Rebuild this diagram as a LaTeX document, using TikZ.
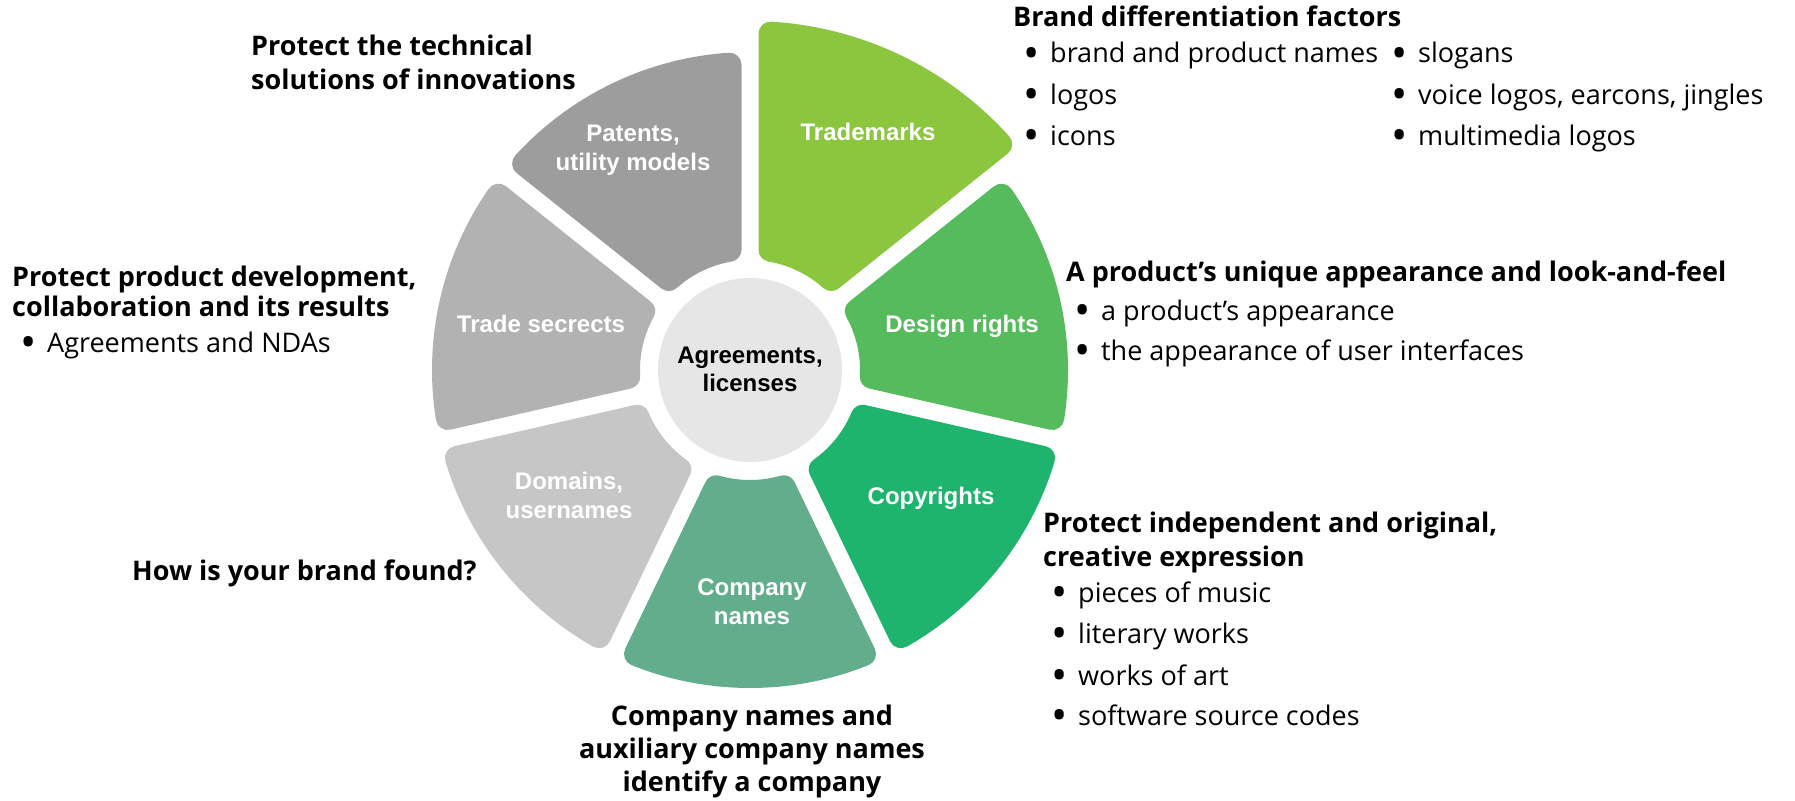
\documentclass[tikz,border=0pt]{standalone}
\usepackage{graphicx}
\usepackage{fontspec}
\setmainfont{Open Sans}
\newfontfamily\labfont{Liberation Sans}
\definecolor{cPat}{HTML}{9D9D9D}
\definecolor{cSec}{HTML}{B2B2B2}
\definecolor{cDom}{HTML}{C6C6C6}
\definecolor{cCom}{HTML}{62AE8C}
\definecolor{cCop}{HTML}{1EB46E}
\definecolor{cDes}{HTML}{55BB5C}
\definecolor{cTra}{HTML}{8CC63F}
\definecolor{cCir}{HTML}{E6E6E6}
\newcommand\bul{\makebox[25pt][l]{\hspace{-1.5pt}\raisebox{-5.5pt}{\scalebox{1.6}{•}}}}
\newcommand\wseg[5]{%
  \pgfmathsetmacro\Ro{#3-12}%
  \pgfmathsetmacro\dO{asin(20.5/\Ro)}%
  \path[segfill=#4] (#1+\dO:\Ro) arc[start angle=#1+\dO, end angle=#2-\dO, radius=\Ro]
    -- (#2-9.67:122) arc[start angle=#2-9.67, end angle=#1+9.67, radius=122] -- cycle;
  \coordinate (#5) at ({(#1+#2)/2}:{(#3+110)/2});}
\tikzset{
  segfill/.style={fill=#1, draw=#1, line width=24pt, line join=round},
  hd/.style={font=\bfseries\fontsize{27}{32}\selectfont, inner sep=0pt, anchor=base west},
  bt/.style={font=\fontsize{27}{32}\selectfont, inner sep=0pt, anchor=base west},
  sl/.style={font=\labfont\bfseries\fontsize{24}{28}\selectfont, text=white, inner sep=0pt, anchor=base},
}
\begin{document}
\begin{tikzpicture}[x=1pt, y=1pt]
\useasboundingbox (0,0) rectangle (1795,-800);
\fill[white] (0,0) rectangle (1795,-800);
\begin{scope}[shift={(750,-370)}]
  \wseg{38.571}{90}{349}{cTra}{sTra}
  \wseg{-12.857}{38.571}{318}{cDes}{sDes}
  \wseg{-64.286}{-12.857}{318}{cCop}{sCop}
  \wseg{-115.714}{-64.286}{318}{cCom}{sCom}
  \wseg{-167.143}{-115.714}{318}{cDom}{sDom}
  \wseg{141.429}{192.857}{318}{cSec}{sSec}
  \wseg{90}{141.429}{318}{cPat}{sPat}
\end{scope}
\node[circle, fill=cCir, minimum size=184pt, inner sep=0pt] (hub) at (750,-370) {};
% segment labels
\node[sl, text=black] (hubA) at (750,-363) {Agreements,};
\node[sl, text=black] (hubB) at (750,-391) {licenses};
\node[sl] (patA) at (633,-141) {Patents,};
\node[sl] (patB) at (633,-170) {utility models};
\node[sl] (tra) at (868,-140) {Trademarks};
\node[sl] (des) at (962,-332) {Design rights};
\node[sl] (sec) at (541,-332) {Trade secrects};
\node[sl] (domA) at (569,-489) {Domains,};
\node[sl] (domB) at (569,-518) {usernames};
\node[sl] (comA) at (752,-595) {Company};
\node[sl] (comB) at (752,-624) {names};
\node[sl] (cop) at (931,-504) {Copyrights};
% outer texts
\node[hd] (t1a) at (251,-56) {Protect the technical};
\node[hd] (t1b) at (251,-89) {solutions of innovations};
\node[hd] (t2a) at (12,-286) {Protect product development,};
\node[hd] (t2b) at (12,-316) {collaboration and its results};
\node[bt] (t2c) at (22,-352) {\bul Agreements and NDAs};
\node[hd] (t3) at (132,-580) {How is your brand found?};
\node[hd, anchor=base] (t4a) at (752,-725) {Company names and};
\node[hd, anchor=base] (t4b) at (752,-758) {auxiliary company names};
\node[hd, anchor=base] (t4c) at (752,-791) {identify a company};
\node[hd] (t5a) at (1043,-532) {Protect independent and original,};
\node[hd] (t5b) at (1043,-566) {creative expression};
\node[bt] (t5c) at (1053,-602) {\bul pieces of music};
\node[bt] (t5d) at (1053,-643) {\bul literary works};
\node[bt] (t5e) at (1053,-685) {\bul works of art};
\node[bt] (t5f) at (1053,-725) {\bul software source codes};
\node[hd] (t6a) at (1066,-281) {A product’s unique appearance and look-and-feel};
\node[bt] (t6b) at (1076,-320) {\bul a product’s appearance};
\node[bt] (t6c) at (1076,-360) {\bul the appearance of user interfaces};
\node[hd] (t7a) at (1013,-27) {Brand differentiation factors};
\node[bt] (t7b) at (1025,-63) {\bul brand and product names};
\node[bt] (t7c) at (1025,-104) {\bul logos};
\node[bt] (t7d) at (1025,-145) {\bul icons};
\node[bt] (t7e) at (1393,-63) {\bul slogans};
\node[bt] (t7f) at (1393,-104) {\bul voice logos, earcons, jingles};
\node[bt] (t7g) at (1393,-145) {\bul multimedia logos};
\end{tikzpicture}
\end{document}
